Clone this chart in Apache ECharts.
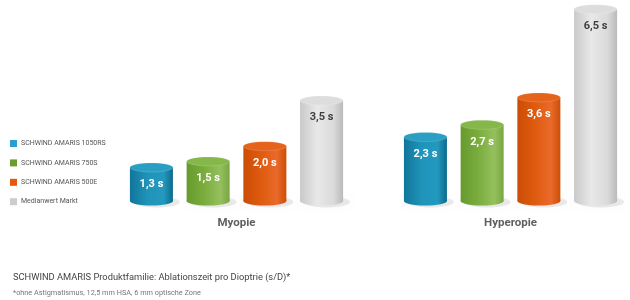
<!DOCTYPE html>
<html><head><meta charset="utf-8">
<script src="https://cdn.jsdelivr.net/npm/echarts@6/dist/echarts.min.js"></script>
<style>html,body{margin:0;padding:0;background:#fff}#c{width:630px;height:300px}</style>
</head><body><div id="c"></div>
<script>
const categories = ['Myopie', 'Hyperopie'];
const seriesNames = ['SCHWIND AMARIS 1050RS', 'SCHWIND AMARIS 750S', 'SCHWIND AMARIS 500E', 'Medianwert Markt'];
const values1050RS = [1.3, 2.3];
const values750S = [1.5, 2.7];
const values500E = [2.0, 3.6];
const valuesMedian = [3.5, 6.5];
const titleText = 'SCHWIND AMARIS Produktfamilie: Ablationszeit pro Dioptrie (s/D)*';
const noteText = '*ohne Astigmatismus, 12,5 mm HSA, 6 mm optische Zone';

const allValues = [values1050RS, values750S, values500E, valuesMedian];
const Y_MIN = 0.2, Y_MAX = 6.8;
const palette = [
  {legend:'#2a9fcb', stops:['#11759a','#1f93b8','#2499bf','#0c6a8c'], top:'#2a9ec3', label:'#ffffff'},
  {legend:'#6c9c30', stops:['#679a2e','#7aac3d','#94c05d','#79a643'], top:'#86b74b', label:'#ffffff'},
  {legend:'#e5590c', stops:['#cc4d07','#de5a0e','#e96a2a','#cc4e07'], top:'#e5631b', label:'#ffffff'},
  {legend:'#cccccc', stops:['#c9c9c9','#e8e8e8','#dadada','#bababa'], top:'#dddddd', label:'#3e3e3e'}
];
const FONT = 'Roboto, "DejaVu Sans", sans-serif';

function fmt(v){ return v.toFixed(1).replace('.', ',') + ' s'; }

function makeRender(idx){
  const p = palette[idx];
  return function(params, api){
    const xi = api.value(0), v = api.value(1);
    const b0 = api.coord([0, Y_MIN]), b1 = api.coord([1, Y_MIN]);
    const unit = b1[0] - b0[0];
    const base = api.coord([xi, Y_MIN]);
    const top = api.coord([xi, v]);
    const cx = base[0] + (idx - 1.5) * unit * 0.207;
    const w = unit * 0.157, rx = w / 2, ry = 4.5;
    const grad = new echarts.graphic.LinearGradient(0, 0, 1, 0, [
      {offset:0, color:p.stops[0]}, {offset:0.4, color:p.stops[1]},
      {offset:0.78, color:p.stops[2]}, {offset:1, color:p.stops[3]}]);
    return {type:'group', children:[
      {type:'ellipse', shape:{cx:cx+5, cy:base[1]+1, rx:rx+2, ry:ry+1},
        style:{fill:'rgba(0,0,0,0.08)', shadowBlur:6, shadowColor:'rgba(0,0,0,0.2)'}},
      {type:'rect', shape:{x:cx-rx, y:top[1], width:w, height:base[1]-top[1]}, style:{fill:grad}},
      {type:'ellipse', shape:{cx:cx, cy:base[1], rx:rx, ry:ry}, style:{fill:grad}},
      {type:'ellipse', shape:{cx:cx, cy:top[1], rx:rx, ry:ry}, style:{fill:p.top, stroke:'rgba(255,255,255,0.25)', lineWidth:0.6}},
      {type:'text', style:{text:fmt(v), x:cx, y:top[1]+17, align:'center', verticalAlign:'middle',
        fill:p.label, fontSize:11, fontWeight:'bold', fontFamily:FONT}}
    ]};
  };
}

const chart = echarts.init(document.getElementById('c'), null, {renderer:'canvas'});
chart.setOption({
  animation:false,
  backgroundColor:'#ffffff',
  title:[
    {text:titleText, left:8, top:268, textStyle:{fontSize:9.3, fontWeight:'normal', color:'#444', fontFamily:FONT}},
    {text:noteText, left:8, top:285, textStyle:{fontSize:7.3, fontWeight:'normal', color:'#777', fontFamily:FONT}}
  ],
  legend:{orient:'vertical', left:5, top:135, itemWidth:7, itemHeight:7, itemGap:12.4, icon:'rect',
    textStyle:{fontSize:7, color:'#555', fontFamily:FONT, padding:[0,0,0,-1]},
    data:seriesNames.map((n,i)=>({name:n, itemStyle:{color:palette[i].legend}}))},
  grid:{left:236.5, right:119.5, top:0, bottom:99},
  xAxis:{type:'category', data:categories, boundaryGap:false,
    axisLine:{show:false}, axisTick:{show:false}, splitLine:{show:false},
    axisLabel:{margin:16, fontSize:11.5, fontWeight:'bold', color:'#606060', fontFamily:FONT}},
  yAxis:{type:'value', min:Y_MIN, max:Y_MAX, show:false},
  series: seriesNames.map((n,i)=>({
    type:'custom', name:n, itemStyle:{color:palette[i].legend}, clip:false,
    encode:{x:0, y:1},
    data: allValues[i].map((v,k)=>[k, v]),
    renderItem: makeRender(i)
  }))
});
</script></body></html>
